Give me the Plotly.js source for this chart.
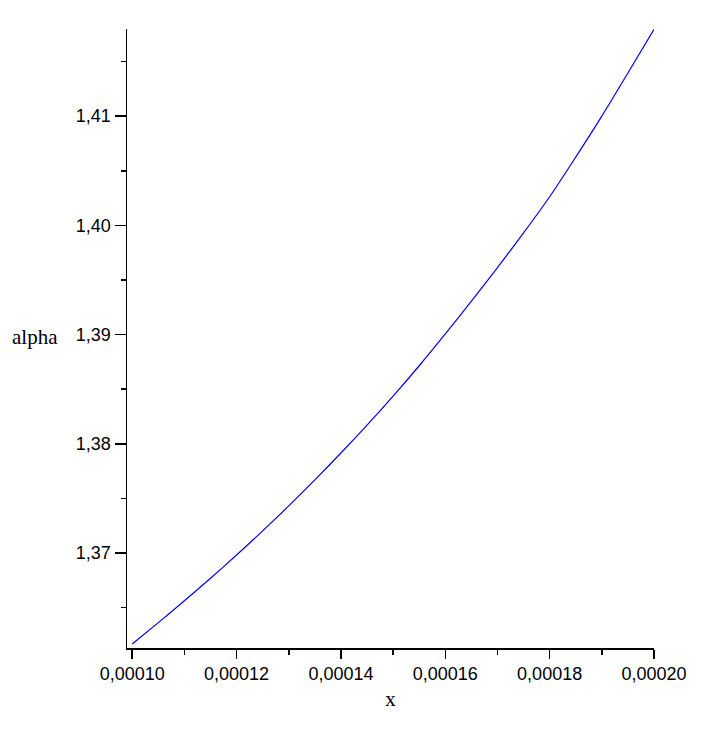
<!DOCTYPE html>
<html>
<head>
<meta charset="utf-8">
<script src="https://cdn.plot.ly/plotly-3.0.1.min.js"></script>
<style>
  html, body { margin: 0; padding: 0; background: #fff; }
  #plot { width: 708px; height: 736px; }
</style>
</head>
<body>
<div id="plot"></div>
<script>
// values
const xValues = [
  0.000100, 0.000105, 0.000110, 0.000115, 0.000120, 0.000125, 0.000130,
  0.000135, 0.000140, 0.000145, 0.000150, 0.000155, 0.000160, 0.000165,
  0.000170, 0.000175, 0.000180, 0.000185, 0.000190, 0.000195, 0.000200
];
const alphaValues = [
  1.36168, 1.36363, 1.36563, 1.36769, 1.36982, 1.37203, 1.37432,
  1.37670, 1.37916, 1.38171, 1.38437, 1.38715, 1.39006, 1.39306,
  1.39614, 1.39931, 1.40262, 1.40625, 1.41000, 1.41395, 1.41795
];
const xLabel = 'x';
const yLabel = 'alpha';

const TICK_FONT = { family: 'Liberation Sans, Arial, sans-serif', size: 18, color: '#000' };
const TITLE_FONT = { family: 'Liberation Serif, Times New Roman, serif', size: 21, color: '#000' };

const trace = {
  x: xValues, y: alphaValues,
  type: 'scatter', mode: 'lines',
  line: { color: '#0000ff', width: 1.2, shape: 'spline', smoothing: 0.8 },
  hoverinfo: 'skip',
};

const layout = {
  width: 708, height: 736,
  paper_bgcolor: '#fff',
  plot_bgcolor: '#fff',
  separators: ', ',
  showlegend: false,
  margin: { l: 127, r: 54, t: 29, b: 88 },
  xaxis: {
    range: [0.000099, 0.0002],
    tick0: 0.0001, dtick: 0.00002,
    tickformat: '.5f',
    showgrid: false, zeroline: false,
    showline: true, linecolor: '#000', linewidth: 1.5,
    ticks: 'outside', ticklen: 9, tickwidth: 1.5, tickcolor: '#000',
    minor: { ticks: 'outside', ticklen: 5, tickwidth: 1.5, tickcolor: '#000', dtick: 0.00001, tick0: 0.0001, showgrid: false },
    tickfont: TICK_FONT,
    title: { text: xLabel, font: TITLE_FONT, standoff: 8 },
  },
  yaxis: {
    range: [1.36131, 1.41798],
    tick0: 1.37, dtick: 0.01,
    tickformat: '.2f',
    showgrid: false, zeroline: false,
    showline: true, linecolor: '#000', linewidth: 1.5,
    ticks: 'outside', ticklen: 11, tickwidth: 1.5, tickcolor: '#000',
    minor: { ticks: 'outside', ticklen: 5, tickwidth: 1.5, tickcolor: '#000', dtick: 0.005, tick0: 1.365, showgrid: false },
    tickfont: TICK_FONT,
  },
  annotations: [{
    text: yLabel, xref: 'paper', yref: 'paper',
    x: -0.222, y: 0.502, xanchor: 'left', yanchor: 'middle',
    showarrow: false, font: TITLE_FONT,
  }],
};

Plotly.newPlot('plot', [trace], layout, { displayModeBar: false, staticPlot: true });
</script>
</body>
</html>
